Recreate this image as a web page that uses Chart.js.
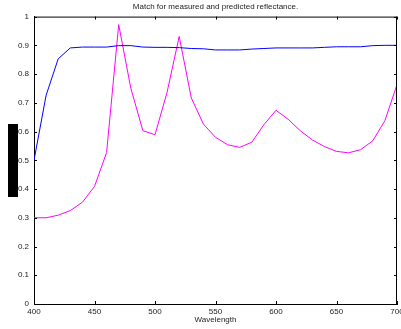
<!DOCTYPE html>
<html>
<head>
<meta charset="utf-8">
<script src="https://cdn.jsdelivr.net/npm/chart.js@4"></script>
<style>
  body { margin: 0; background: #fff; }
  #wrap { position: relative; width: 401px; height: 329px; }
  #blot { position: absolute; left: 8px; top: 124px; width: 10px; height: 73px; background: #000; }
</style>
</head>
<body>
<div id="wrap">
  <canvas id="chart" width="401" height="329"></canvas>
  <div id="blot"></div>
</div>
<script>
const wavelengths = [400, 410, 420, 430, 440, 450, 460, 470, 480, 490, 500, 510, 520, 530, 540, 550,
  560, 570, 580, 590, 600, 610, 620, 630, 640, 650, 660, 670, 680, 690, 700];
const measured = [0.500, 0.726, 0.853, 0.891, 0.894, 0.894, 0.894, 0.899, 0.899, 0.894, 0.893, 0.893,
  0.892, 0.889, 0.888, 0.884, 0.884, 0.884, 0.887, 0.889, 0.891, 0.891, 0.891, 0.891, 0.893, 0.895,
  0.895, 0.895, 0.899, 0.900, 0.900];
const predicted = [0.300, 0.300, 0.309, 0.325, 0.354, 0.409, 0.527, 0.972, 0.751, 0.603, 0.589, 0.737,
  0.931, 0.717, 0.626, 0.580, 0.554, 0.545, 0.563, 0.624, 0.674, 0.643, 0.603, 0.571, 0.548, 0.531,
  0.526, 0.537, 0.568, 0.638, 0.763];
const xTicks = [400, 450, 500, 550, 600, 650, 700];

const font = { family: '"Liberation Sans", Arial, sans-serif', size: 8 };

// matlab style box: inward ticks on all four sides + top/right border
const boxPlugin = {
  id: 'box',
  afterDatasetsDraw(chart) {
    const { ctx, chartArea: a, scales } = chart;
    ctx.save();
    ctx.strokeStyle = '#000';
    ctx.lineWidth = 1;
    ctx.beginPath();
    ctx.moveTo(a.left, a.top + 0.5); ctx.lineTo(a.right, a.top + 0.5);
    ctx.moveTo(a.right - 0.5, a.top); ctx.lineTo(a.right - 0.5, a.bottom);
    scales.x.ticks.forEach(t => {
      const x = Math.round(scales.x.getPixelForValue(t.value)) + 0.5;
      ctx.moveTo(x, a.bottom); ctx.lineTo(x, a.bottom - 3);
      ctx.moveTo(x, a.top); ctx.lineTo(x, a.top + 3);
    });
    scales.y.ticks.forEach(t => {
      const y = Math.round(scales.y.getPixelForValue(t.value)) + 0.5;
      ctx.moveTo(a.left, y); ctx.lineTo(a.left + 3, y);
      ctx.moveTo(a.right, y); ctx.lineTo(a.right - 3, y);
    });
    ctx.stroke();
    ctx.restore();
  }
};

new Chart(document.getElementById('chart'), {
  type: 'line',
  data: {
    datasets: [
      { data: wavelengths.map((w, i) => ({ x: w, y: measured[i] })), borderColor: '#0000ff', borderWidth: 1 },
      { data: wavelengths.map((w, i) => ({ x: w, y: predicted[i] })), borderColor: '#ff00ff', borderWidth: 1 }
    ]
  },
  options: {
    responsive: false,
    animation: false,
    events: [],
    layout: { padding: { left: 0, right: 4, top: 0, bottom: 0 } },
    elements: { point: { radius: 0 }, line: { tension: 0 } },
    plugins: {
      legend: { display: false },
      tooltip: { enabled: false },
      title: {
        display: true,
        fullSize: false,
        text: 'Match for measured and predicted reflectance.',
        color: '#222',
        font: { ...font, weight: 'normal' },
        padding: { top: 2, bottom: 5 }
      }
    },
    scales: {
      x: {
        type: 'linear', min: 400, max: 700,
        afterBuildTicks: s => { s.ticks = xTicks.map(v => ({ value: v })); },
        afterFit: s => { s.height = 25; s.paddingLeft = 0; s.paddingRight = 0; },
        grid: { drawOnChartArea: false, drawTicks: false },
        border: { color: '#000', width: 1 },
        ticks: { color: '#222', font, padding: 3, maxRotation: 0 },
        title: { display: true, text: 'Wavelength', color: '#222', font, padding: { top: 0, bottom: 4 } }
      },
      y: {
        min: 0, max: 1,
        afterFit: s => { s.width = 34; },
        grid: { drawOnChartArea: false, drawTicks: false },
        border: { color: '#000', width: 1 },
        ticks: { stepSize: 0.1, color: '#222', font, padding: 5, callback: v => String(+v.toFixed(1)) }
      }
    }
  },
  plugins: [boxPlugin]
});
</script>
</body>
</html>
